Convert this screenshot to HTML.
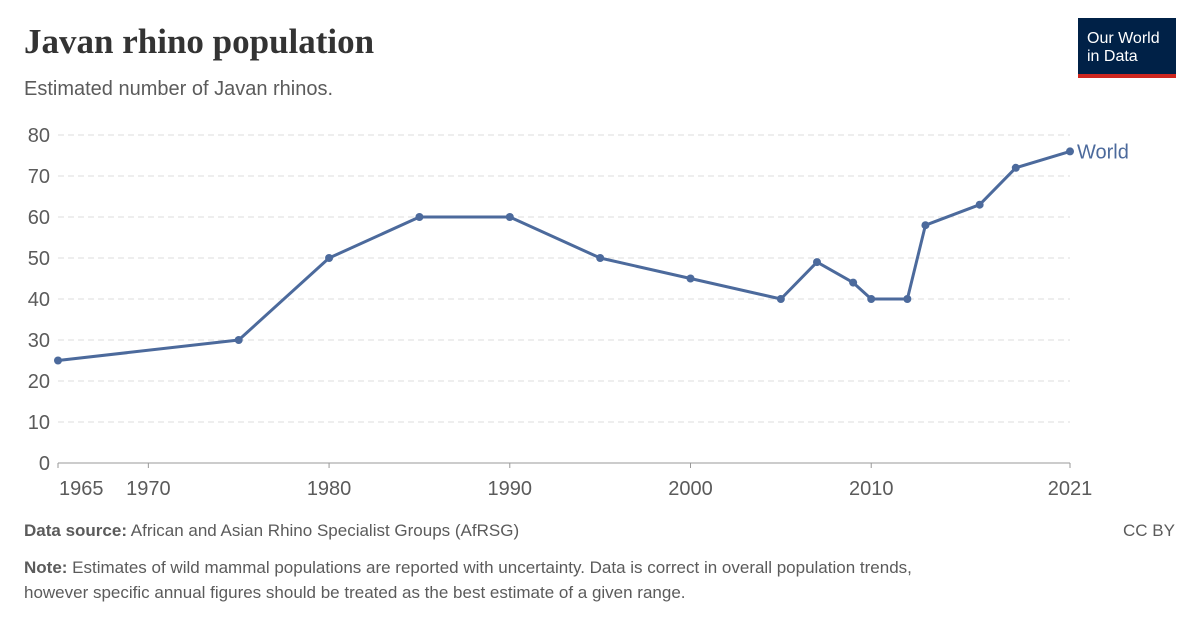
<!DOCTYPE html>
<html><head><meta charset="utf-8"><style>
body{margin:0;background:#fff;font-family:"Liberation Sans",sans-serif;}
#wrap{position:relative;width:1200px;height:627px;overflow:hidden}
</style></head><body>
<div id="wrap">
<div style="position:absolute;left:24px;top:22px;font-family:'Liberation Serif',serif;font-weight:bold;font-size:35px;color:#333">Javan rhino population</div>
<div style="position:absolute;left:24px;top:78px;font-size:20px;color:#5b5b5b">Estimated number of Javan rhinos.</div>
<div style="position:absolute;left:1078px;top:18px;width:98px;height:60px;background:#002147;border-bottom:4px solid #ce261e;box-sizing:border-box;color:#fff;font-size:16px;line-height:18px;padding:12px 0 0 9px">Our World<br>in Data</div>
<svg id="chart" width="1200" height="627" style="position:absolute;left:0;top:0"></svg>
<div style="position:absolute;left:24px;top:521px;font-size:17px;color:#5b5b5b"><b>Data source:</b> African and Asian Rhino Specialist Groups (AfRSG)</div>
<div style="position:absolute;right:25px;top:521px;font-size:17px;color:#5b5b5b">CC BY</div>
<div style="position:absolute;left:24px;top:555px;width:900px;font-size:17px;line-height:25px;color:#5b5b5b"><b>Note:</b> Estimates of wild mammal populations are reported with uncertainty. Data is correct in overall population trends, however specific annual figures should be treated as the best estimate of a given range.</div>
</div>
<script>
const years=[1965,1975,1980,1985,1990,1995,2000,2005,2007,2009,2010,2012,2013,2016,2018,2021];
const values=[25,30,50,60,60,50,45,40,49,44,40,40,58,63,72,76];
const yTicks=[0,10,20,30,40,50,60,70,80];
const xTicks=[1965,1970,1980,1990,2000,2010,2021];
const NS="http://www.w3.org/2000/svg";
const svg=document.getElementById('chart');
const x=v=>58+(v-1965)*(1070-58)/(2021-1965);
const y=v=>463-v*(463-135)/80;
function mk(t,a,p){const e=document.createElementNS(NS,t);for(const k in a)e.setAttribute(k,a[k]);(p||svg).appendChild(e);return e;}
yTicks.forEach(t=>{
 if(t>0){const g=mk('line',{x1:58,x2:1070,y1:y(t),y2:y(t),stroke:'#ddd','stroke-dasharray':'6,4'});
 
 }
 const l=mk('text',{x:50,y:y(t)+7,'text-anchor':'end','font-size':20,fill:'#5b5b5b','font-family':'Liberation Sans'});
 
 
 l.textContent=t;
});
const ax=mk('line',{x1:58,x2:1070,y1:463,y2:463,stroke:'#999'});


xTicks.forEach(t=>{
 const tk=mk('line',{x1:x(t),x2:x(t),y1:463,y2:468,stroke:'#999'});
 
 
 const l=mk('text',{x:t===1965?x(t)+1:x(t),y:495,'text-anchor':t===1965?'start':'middle','font-size':20,fill:'#5b5b5b','font-family':'Liberation Sans'});
 
 
 l.textContent=t;
});
const line=mk('polyline',{points:years.map((d,i)=>x(d)+','+y(values[i])).join(' '),fill:'none',stroke:'#4c6a9c','stroke-width':3,'stroke-linejoin':'round'});


years.forEach((d,i)=>{
 const c=mk('circle',{cx:x(d),cy:y(values[i]),r:4,fill:'#4c6a9c'});
 
 
});
const lab=mk('text',{x:1077,y:y(values[values.length-1])+7,'font-size':20,fill:'#4c6a9c','font-family':'Liberation Sans'});


lab.textContent='World';
</script>
</body></html>
